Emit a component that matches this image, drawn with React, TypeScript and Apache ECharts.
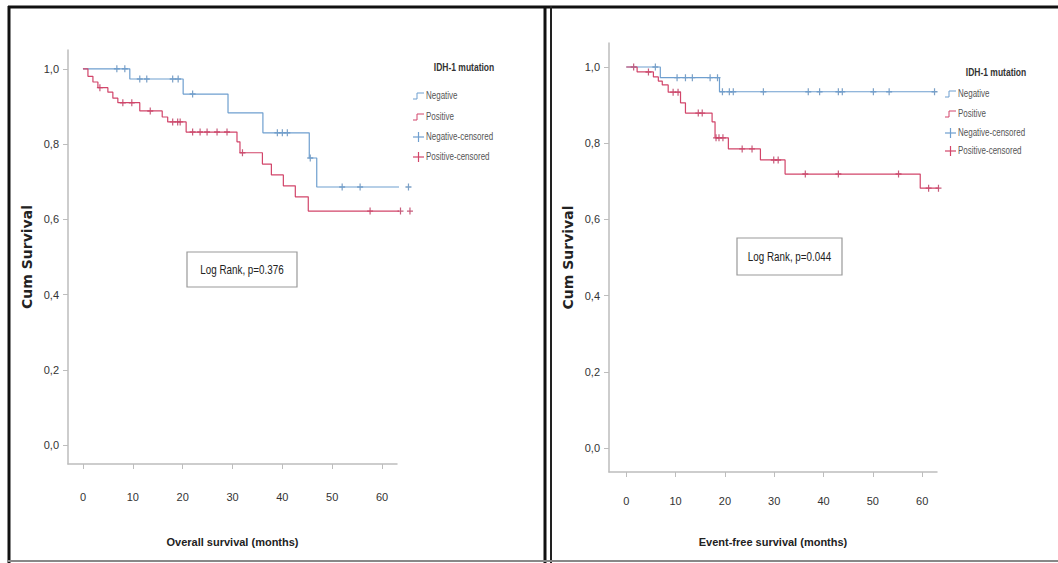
import React, { useEffect, useRef } from "react";
import * as echarts from "echarts";

// ---------- data ----------
const yTicks = [0, 0.2, 0.4, 0.6, 0.8, 1.0];
const xTicks = [0, 10, 20, 30, 40, 50, 60];
const legendTitle = "IDH-1 mutation";
const legendItems = ["Negative", "Positive", "Negative-censored", "Positive-censored"];

// Overall survival
const osNegTimes = [0, 9.4, 20.1, 29.1, 36.1, 45.4, 46.9, 65.3];
const osNegSurv = [1, 0.973, 0.933, 0.883, 0.83, 0.763, 0.686, 0.686];
const osNegCensor = [6.8, 8.4, 11.4, 12.8, 18, 19.1, 22, 39, 40, 41, 45.6, 52, 55.6, 65.3];

const osPosTimes = [0, 1, 2, 3, 5, 6, 7, 11.4, 15.9, 17, 20.7, 30.9, 31.5, 36, 37.8, 40.2, 42.6, 45.2, 65.6];
const osPosSurv = [1, 0.98, 0.965, 0.95, 0.938, 0.922, 0.91, 0.888, 0.872, 0.859, 0.832, 0.806, 0.777, 0.747, 0.718, 0.689, 0.66, 0.622, 0.622];
const osPosCensor = [3.4, 8, 9.8, 13.5, 18, 19, 19.5, 22, 23.5, 24.9, 26.9, 28.9, 32, 57.6, 63.7, 65.6];

// Event-free survival
const efsNegTimes = [0, 6.9, 18.9, 62.5];
const efsNegSurv = [1, 0.972, 0.935, 0.935];
const efsNegCensor = [5.9, 10.3, 12, 13.4, 17, 18.5, 19.5, 20.9, 21.7, 27.8, 36.9, 39.2, 43, 43.8, 50.1, 53.3, 62.5];

const efsPosTimes = [0, 2.2, 5.5, 6.5, 7.3, 8.5, 11, 12, 17.4, 18, 20.7, 27.2, 32.2, 59.6, 63.3];
const efsPosSurv = [1, 0.987, 0.974, 0.963, 0.953, 0.934, 0.906, 0.879, 0.856, 0.814, 0.785, 0.756, 0.719, 0.682, 0.682];
const efsPosCensor = [1.5, 4.5, 9.5, 10.5, 14.6, 15.4, 18.2, 18.8, 19.6, 23.5, 25.5, 29.9, 30.8, 36.3, 43, 55.2, 61.3, 63.3];

const osTest = "Log Rank, p=0.376";
const efsTest = "Log Rank, p=0.044";

// ---------- helpers ----------
const BLUE = "#6f9fcf";
const RED = "#d2456a";
const BLUE_MARK = "#5a88b8";
const RED_MARK = "#b8335a";
const FONT = "'Liberation Sans', Arial, sans-serif";
const PLUS = "path://M4,0H6V4H10V6H6V10H4V6H0V4H4Z";

const pairs = (ts: number[], ss: number[]) => ts.map((t, i) => [t, ss[i]]);
const survAt = (ts: number[], ss: number[], t: number) => {
  let s = ss[0];
  for (let i = 0; i < ts.length; i++) {
    if (ts[i] <= t) s = ss[i];
    else break;
  }
  return s;
};
const censorPts = (ts: number[], ss: number[], cs: number[]) => cs.map((c) => [c, survAt(ts, ss, c)]);

function legendGraphic(x: number, titleX: number, y0: number, gaps: number[]) {
  const els: any[] = [];
  els.push({
    type: "text",
    x: titleX,
    y: y0,
    scaleX: 0.85,
    style: { text: legendTitle, fill: "#333", font: `bold 10px ${FONT}`, align: "center", verticalAlign: "middle" },
  });
  const colors = [BLUE, RED, BLUE, RED];
  legendItems.forEach((name, i) => {
    const cy = gaps[i];
    if (i < 2) {
      els.push({
        type: "polyline",
        shape: { points: [[x, cy + 3], [x + 4, cy + 3], [x + 4, cy - 3], [x + 11, cy - 3]] },
        style: { stroke: colors[i], lineWidth: 1, fill: null },
      });
    } else {
      els.push({ type: "line", shape: { x1: x, y1: cy, x2: x + 11, y2: cy }, style: { stroke: colors[i], lineWidth: 1.2 } });
      els.push({ type: "line", shape: { x1: x + 5.5, y1: cy - 5, x2: x + 5.5, y2: cy + 5 }, style: { stroke: colors[i], lineWidth: 1.2 } });
    }
    els.push({
      type: "text",
      x: x + 13,
      y: cy,
      scaleX: 0.8,
      style: { text: name, fill: "#555", font: `10px ${FONT}`, verticalAlign: "middle" },
    });
  });
  return els;
}

function boxGraphic(x: number, y: number, w: number, h: number, text: string) {
  return [
    { type: "rect", shape: { x, y, width: w, height: h }, style: { fill: "#fff", stroke: "#999", lineWidth: 1.2 } },
    {
      type: "text",
      x: x + w / 2,
      y: y + h / 2,
      scaleX: 0.82,
      style: { text, fill: "#222", font: `12px ${FONT}`, align: "center", verticalAlign: "middle" },
    },
  ];
}

function xAxisCfg(gi: number, min: number, max: number, name: string, margin: number, nameGap: number) {
  return {
    type: "value",
    gridIndex: gi,
    min,
    max,
    name,
    nameLocation: "middle",
    nameGap,
    nameTextStyle: { color: "#222", fontFamily: FONT, fontWeight: "bold", fontSize: 11 },
    axisLine: { show: true, onZero: false, lineStyle: { color: "#bdbdbd", width: 1.5 } },
    axisTick: { show: true, customValues: xTicks, length: 5, lineStyle: { color: "#bdbdbd" } },
    axisLabel: { customValues: xTicks, margin, color: "#333", fontFamily: FONT, fontSize: 11, formatter: (v: number) => String(v) },
    splitLine: { show: false },
  };
}

function yAxisCfg(gi: number, min: number, max: number) {
  return {
    type: "value",
    gridIndex: gi,
    min,
    max,
    name: "Cum Survival",
    nameLocation: "middle",
    nameGap: 34,
    nameTextStyle: { color: "#222", fontFamily: "'DejaVu Sans', sans-serif", fontWeight: "bold", fontSize: 14 },
    axisLine: { show: true, onZero: false, lineStyle: { color: "#bdbdbd", width: 1.5 } },
    axisTick: { show: true, customValues: yTicks, length: 5, lineStyle: { color: "#bdbdbd" } },
    axisLabel: {
      customValues: yTicks,
      margin: 9,
      color: "#333",
      fontFamily: FONT,
      fontSize: 11,
      formatter: (v: number) => v.toFixed(1).replace(".", ","),
    },
    splitLine: { show: false },
  };
}

function curve(name: string, gi: number, data: number[][], color: string) {
  return {
    name,
    type: "line",
    xAxisIndex: gi,
    yAxisIndex: gi,
    step: "end",
    data,
    showSymbol: false,
    clip: false,
    lineStyle: { color, width: 1.2 },
    itemStyle: { color },
  };
}

function censors(name: string, gi: number, data: number[][], color: string) {
  return {
    name,
    type: "scatter",
    xAxisIndex: gi,
    yAxisIndex: gi,
    data,
    symbol: PLUS,
    symbolSize: [6, 7],
    clip: false,
    itemStyle: { color },
  };
}

export default function App() {
  const ref = useRef<HTMLDivElement>(null);
  useEffect(() => {
    if (!ref.current) return;
    const chart = echarts.init(ref.current, null, { renderer: "svg" });
    const option: any = {
      animation: false,
      backgroundColor: "#ffffff",
      grid: [
        { left: 68, top: 50, width: 329, height: 414 },
        { left: 609, top: 43, width: 328, height: 429 },
      ],
      xAxis: [
        xAxisCfg(0, -3, 63, "Overall survival (months)", 27, 72),
        xAxisCfg(1, -3.5, 63, "Event-free survival (months)", 23, 64),
      ],
      yAxis: [yAxisCfg(0, -0.05, 1.05), yAxisCfg(1, -0.063, 1.063)],
      series: [
        curve("Negative", 0, pairs(osNegTimes, osNegSurv), BLUE),
        curve("Positive", 0, pairs(osPosTimes, osPosSurv), RED),
        censors("Negative-censored", 0, censorPts(osNegTimes, osNegSurv, osNegCensor), BLUE_MARK),
        censors("Positive-censored", 0, censorPts(osPosTimes, osPosSurv, osPosCensor), RED_MARK),
        curve("Negative", 1, pairs(efsNegTimes, efsNegSurv), BLUE),
        curve("Positive", 1, pairs(efsPosTimes, efsPosSurv), RED),
        censors("Negative-censored", 1, censorPts(efsNegTimes, efsNegSurv, efsNegCensor), BLUE_MARK),
        censors("Positive-censored", 1, censorPts(efsPosTimes, efsPosSurv, efsPosCensor), RED_MARK),
      ],
      graphic: [
        // frames
        { type: "line", shape: { x1: 8, y1: 7, x2: 1058, y2: 7 }, style: { stroke: "#111", lineWidth: 3 } },
        { type: "line", shape: { x1: 9, y1: 6, x2: 9, y2: 563 }, style: { stroke: "#111", lineWidth: 3 } },
        { type: "line", shape: { x1: 545, y1: 6, x2: 545, y2: 563 }, style: { stroke: "#111", lineWidth: 3 } },
        { type: "line", shape: { x1: 551, y1: 6, x2: 551, y2: 563 }, style: { stroke: "#222", lineWidth: 2 } },
        { type: "line", shape: { x1: 8, y1: 561, x2: 1058, y2: 561 }, style: { stroke: "#888", lineWidth: 2 } },
        ...legendGraphic(413, 464, 68, [96, 117, 137, 157]),
        ...legendGraphic(945, 996, 73, [94, 114, 133, 151]),
        ...boxGraphic(187, 252, 110, 35, osTest),
        ...boxGraphic(737, 238, 105, 37, efsTest),
      ],
    };
    chart.setOption(option);
    return () => chart.dispose();
  }, []);
  return <div ref={ref} style={{ position: "absolute", left: 0, top: 0, width: 1058, height: 563 }} />;
}
